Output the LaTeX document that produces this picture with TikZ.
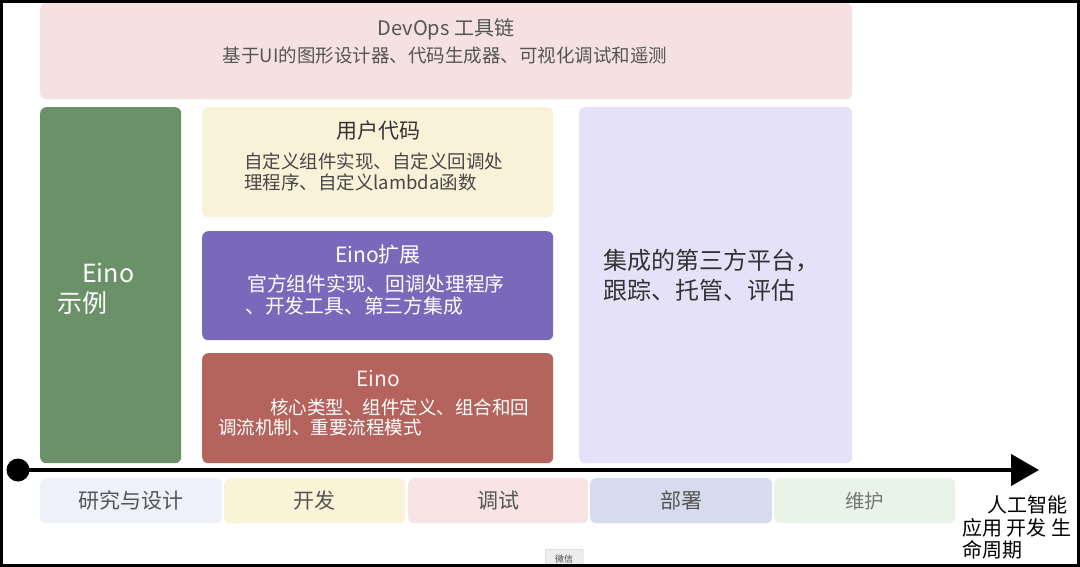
\documentclass[tikz,border=0pt]{standalone}
\usepackage{fontspec}
\setmainfont{Noto Sans CJK SC}
\usetikzlibrary{arrows.meta}
\definecolor{devopsbg}{HTML}{F5E1E1}
\definecolor{greenbg}{HTML}{6B9169}
\definecolor{creambg}{HTML}{FAF2D8}
\definecolor{purplebg}{HTML}{7A68BA}
\definecolor{redbg}{HTML}{B4635D}
\definecolor{lavbg}{HTML}{E5E1F8}
\definecolor{stA}{HTML}{EEF1FA}
\definecolor{stB}{HTML}{FBF3D8}
\definecolor{stC}{HTML}{F8E4E4}
\definecolor{stD}{HTML}{D6DBEE}
\definecolor{stE}{HTML}{E7F4E7}
\definecolor{greytext}{HTML}{555555}
\definecolor{darktext}{HTML}{333333}
\newcommand{\fs}[1]{\fontsize{#1}{#1}\selectfont}
\begin{document}
\begin{tikzpicture}[x=1pt,y=-1pt,
  panel/.style={draw=none, rounded corners=6pt, anchor=north west, inner sep=0pt},
  stage/.style={draw=none, rounded corners=6pt, anchor=north west, inner sep=0pt, minimum height=45pt},
  stagetext/.style={font=\fs{21}, text=greytext, inner sep=0pt},
  title/.style={inner sep=0pt, font=\fs{21}},
  body/.style={inner sep=0pt, anchor=west, font=\fs{18.5}}]
\useasboundingbox (0,0) rectangle (1080,567);
\fill[white] (0,0) rectangle (1080,567);
% panels
\node[panel, fill=devopsbg, minimum width=812pt, minimum height=96pt] (devops) at (40,3) {};
\node[panel, fill=greenbg, minimum width=141pt, minimum height=356pt] (green) at (40,107) {};
\node[panel, fill=creambg, minimum width=351pt, minimum height=110pt] (user) at (202,107) {};
\node[panel, fill=purplebg, minimum width=351pt, minimum height=109pt] (ext) at (202,231) {};
\node[panel, fill=redbg, minimum width=351pt, minimum height=110pt] (core) at (202,353) {};
\node[panel, fill=lavbg, minimum width=273pt, minimum height=356pt] (third) at (579,107) {};
% texts
\node[title, font=\fs{20}, text=greytext] (devopsT) at (446,29) {DevOps 工具链};
\node[inner sep=0pt, font=\fs{18.5}, text=greytext] (devopsB) at (445,55) {基于UI的图形设计器、代码生成器、可视化调试和遥测};
\node[inner sep=0pt, anchor=west, font=\fs{25}, text=white] (greenA) at (82,273) {Eino};
\node[inner sep=0pt, anchor=west, font=\fs{25}, text=white] (greenB) at (57,303) {示例};
\node[title, text=darktext] (userT) at (378,131) {用户代码};
\node[body, text=darktext!90] (userA) at (244,161) {自定义组件实现、自定义回调处};
\node[body, text=darktext!90] (userB) at (244,182) {理程序、自定义lambda函数};
\node[title, text=white] (extT) at (378,255) {Eino扩展};
\node[body, font=\fs{19.8}, text=white] (extA) at (247,284) {官方组件实现、回调处理程序};
\node[body, font=\fs{19.8}, text=white] (extB) at (245,306) {、开发工具、第三方集成};
\node[title, text=white!92!redbg] (coreT) at (378,378) {Eino};
\node[body, text=white] (coreA) at (270,407) {核心类型、组件定义、组合和回};
\node[body, text=white] (coreB) at (218,427) {调流机制、重要流程模式};
\node[inner sep=0pt, anchor=west, font=\fs{24}, text=darktext] (thirdA) at (603,261) {集成的第三方平台，};
\node[inner sep=0pt, anchor=west, font=\fs{24}, text=darktext] (thirdB) at (603,290) {跟踪、托管、评估};
% axis
\coordinate (axisL) at (18,470);
\coordinate (axisR) at (1039,470);
\node[circle, fill=black, minimum size=23pt, inner sep=0pt] (dot) at (axisL) {};
\draw[line width=4.5pt, -{Triangle[length=28pt,width=31pt]}] (dot.center) -- (axisR);
% stages
\node[stage, fill=stA, minimum width=182pt] (s1) at (40,478) {};
\node[stage, fill=stB, minimum width=181pt] (s2) at (224,478) {};
\node[stage, fill=stC, minimum width=180pt] (s3) at (408,478) {};
\node[stage, fill=stD, minimum width=182pt] (s4) at (590,478) {};
\node[stage, fill=stE, minimum width=181pt] (s5) at (774,478) {};
\node[stagetext] (t1) at (s1.center) {研究与设计};
\node[stagetext] (t2) at (s2.center) {开发};
\node[stagetext] (t3) at (s3.center) {调试};
\node[stagetext] (t4) at (s4.center) {部署};
\node[stagetext, font=\fs{19.5}, text=greytext!80] (t5) at (s5.center) {维护};
% lifecycle label
\node[inner sep=0pt, anchor=east, font=\fs{20}] (lcA) at (1068,505) {人工智能};
\node[inner sep=0pt, anchor=west, font=\fs{20}] (lcB) at (962,528) {应用 开发 生};
\node[inner sep=0pt, anchor=west, font=\fs{20}] (lcC) at (962,550) {命周期};
% wechat tag
\node[draw=black!20, fill=black!7, rounded corners=2pt, anchor=north west, minimum width=38pt, minimum height=20pt, inner sep=0pt, font=\fs{9}, text=black!70] (wx) at (545,549) {微信};
% frame
\draw[line width=3pt] (1.5,1.5) rectangle (1078.5,565.5);
\end{tikzpicture}
\end{document}
